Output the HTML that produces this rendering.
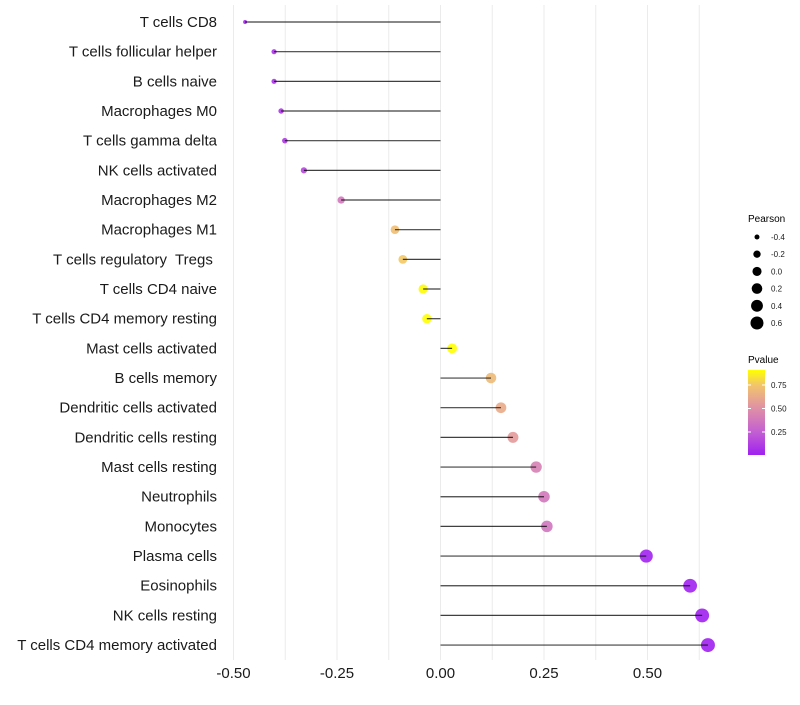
<!DOCTYPE html>
<html><head><meta charset="utf-8"><style>
body{margin:0;background:#fff;font-family:"Liberation Sans",sans-serif}
svg text{font-family:"Liberation Sans",sans-serif;white-space:pre}
</style></head><body>
<svg id="chart" width="800" height="700" xmlns="http://www.w3.org/2000/svg">
<defs><linearGradient id="pg" x1="0" y1="1" x2="0" y2="0">
<stop offset="0" stop-color="#A020F0"/><stop offset="0.27" stop-color="#C35FD2"/><stop offset="0.55" stop-color="#DF90A6"/><stop offset="0.82" stop-color="#F2C46C"/><stop offset="1" stop-color="#FFFF00"/></linearGradient></defs>
<g id="grid"></g>
<g id="marks"></g>
<g id="ylabels"></g>
<g id="xlabels"></g>
<g id="lp">
<text x="748" y="222" font-size="10">Pearson</text>
</g>
<g>
<text x="748" y="363" font-size="10">Pvalue</text>
<rect x="748" y="370" width="17" height="85" fill="url(#pg)"/>
<g id="pt"></g>
</g>
</svg>
<script>
const categories=["T cells CD8","T cells follicular helper","B cells naive","Macrophages M0","T cells gamma delta","NK cells activated","Macrophages M2","Macrophages M1","T cells regulatory  Tregs ","T cells CD4 naive","T cells CD4 memory resting","Mast cells activated","B cells memory","Dendritic cells activated","Dendritic cells resting","Mast cells resting","Neutrophils","Monocytes","Plasma cells","Eosinophils","NK cells resting","T cells CD4 memory activated"];
const pearson=[-0.472,-0.402,-0.402,-0.385,-0.376,-0.33,-0.24,-0.11,-0.091,-0.042,-0.033,0.028,0.122,0.146,0.175,0.231,0.25,0.257,0.497,0.603,0.632,0.646];
const pvalues=[0.03,0.08,0.08,0.09,0.1,0.15,0.38,0.72,0.76,0.9,0.91,0.92,0.7,0.63,0.55,0.42,0.38,0.36,0.01,0.005,0.003,0.002];
const xTicks=[-0.5,-0.25,0,0.25,0.5];
const xTickLabels=["-0.50","-0.25","0.00","0.25","0.50"];
const sizeLegend=[-0.4,-0.2,0,0.2,0.4,0.6];
const sizeLegendLabels=["-0.4","-0.2","0.0","0.2","0.4","0.6"];
const pTicks=[0.25,0.5,0.75];
const pTickLabels=["0.25","0.50","0.75"];

const NS="http://www.w3.org/2000/svg";
const X=v=>440.5+v*414;
const Y=i=>22+i*29.67;
const R=v=>Math.sqrt(Math.max(1,4+40.3*(v+0.47)));
const PY=p=>455.5-p*94;
const stops=[[0,[160,32,240]],[0.25,[195,95,210]],[0.5,[223,144,166]],[0.75,[242,196,108]],[0.91,[255,255,0]]];
function col(p){for(let k=1;k<stops.length;k++){if(p<=stops[k][0]||k==stops.length-1){const a=stops[k-1],b=stops[k];let t=Math.min(1,Math.max(0,(p-a[0])/(b[0]-a[0])));return 'rgb('+a[1].map((c,j)=>Math.round(c+(b[1][j]-c)*t)).join(',')+')';}}}
function mk(t,a,par){const e=document.createElementNS(NS,t);for(const k in a)e.setAttribute(k,a[k]);document.getElementById(par).appendChild(e);return e;}
for(let g=-0.5;g<=0.626;g+=0.125){
 const l=mk('line',{x1:X(g),x2:X(g),y1:5,y2:660,stroke:'#ebebeb','stroke-width':1},'grid');
 
 
}
categories.forEach((c,i)=>{
 const v=pearson[i];
 const pt=mk('circle',{cx:X(v),cy:Y(i),r:R(v),fill:col(pvalues[i]),'fill-opacity':0.9},'marks');
 
 
 const s=mk('line',{x1:X(0),x2:X(v),y1:Y(i),y2:Y(i),stroke:'#000','stroke-width':1.2,'stroke-opacity':0.75},'marks');
 
 
 const t=mk('text',{x:217,y:Y(i)+5,'text-anchor':'end','font-size':15,fill:'#1a1a1a'},'ylabels');
 t.textContent=c;
 
 
});
xTicks.forEach((v,i)=>{
 const t=mk('text',{x:X(v),y:678,'text-anchor':'middle','font-size':15,fill:'#1a1a1a'},'xlabels');
 t.textContent=xTickLabels[i];
 
 
});
sizeLegend.forEach((v,i)=>{
 const y=237+i*17.2;
 const c=mk('circle',{cx:757,cy:y,r:R(v)*0.95,fill:'#000'},'lp');
 
 
 const t=mk('text',{x:771,y:y+3,'font-size':8,fill:'#1a1a1a'},'lp');
 t.textContent=sizeLegendLabels[i];
 
 
});
pTicks.forEach((p,i)=>{
 const y=PY(p);
 mk('line',{x1:748,x2:751,y1:y,y2:y,stroke:'#fff'},'pt');
 mk('line',{x1:762,x2:765,y1:y,y2:y,stroke:'#fff'},'pt');
 const t=mk('text',{x:771,y:y+3,'font-size':8,fill:'#1a1a1a'},'pt');
 t.textContent=pTickLabels[i];
 
 
});
</script>
</body></html>
